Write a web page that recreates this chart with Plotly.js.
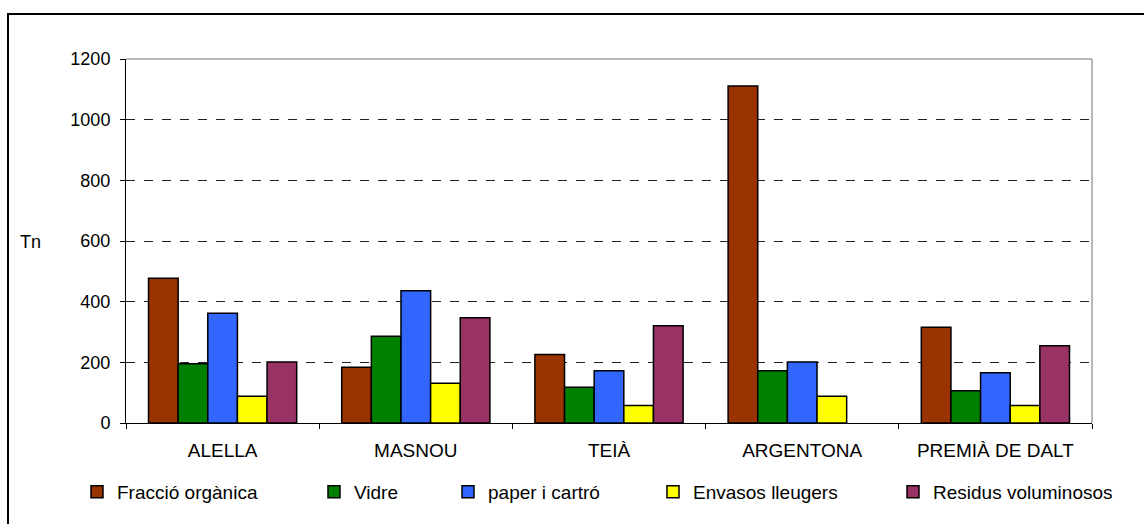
<!DOCTYPE html>
<html>
<head>
<meta charset="utf-8">
<script src="https://cdn.plot.ly/plotly-3.0.1.min.js"></script>
<style>
  html, body { margin: 0; padding: 0; background: #fff; }
  #chart { width: 1144px; height: 524px; }
</style>
</head>
<body>
<div id="chart"></div>
<script>
const categories = ["ALELLA", "MASNOU", "TEIÀ", "ARGENTONA", "PREMIÀ DE DALT"];
const seriesNames = ["Fracció orgànica", "Vidre", "paper i cartró", "Envasos lleugers", "Residus voluminosos"];
const fraccioOrganica = [477, 184, 226, 1111, 316];
const vidre = [195, 286, 118, 172, 106];
const paperCartro = [362, 436, 172, 201, 166];
const envasosLleugers = [88, 131, 58, 88, 58];
const residusVoluminosos = [201, 347, 321, null, 255];
const yTicks = [0, 200, 400, 600, 800, 1000, 1200];

const seriesValues = [fraccioOrganica, vidre, paperCartro, envasosLleugers, residusVoluminosos];
const colors = ["#993300", "#008000", "#3366FF", "#FFFF00", "#993366"];

const W = 1144, H = 524;
const L = 126, R = 1092, T = 59, B = 423;
const pw = R - L, ph = B - T;
const px = x => (x - L) / pw;
const py = y => (B - y) / ph;

const legendTextStarts = [117, 354, 488, 693, 933];
const family = "Liberation Sans, Arial, sans-serif";
const labelFont = { family: family, size: 19, color: "#000" };
const tickFont = { family: family, size: 18, color: "#000" };

const traces = seriesNames.map((name, i) => ({
  type: "bar",
  name: name,
  x: categories,
  y: seriesValues[i],
  marker: { color: colors[i], line: { color: "#000", width: 1.5 } },
  legend: i === 0 ? "legend" : "legend" + (i + 1),
  hoverinfo: "x+y+name"
}));

const layout = {
  width: W, height: H,
  margin: { l: L, r: W - R, t: T, b: H - B, pad: 0 },
  paper_bgcolor: "#fff",
  plot_bgcolor: "#fff",
  font: labelFont,
  barmode: "group",
  bargap: 0.233,
  bargroupgap: 0,
  showlegend: true,
  xaxis: {
    type: "category",
    showline: true, linecolor: "#000", linewidth: 1,
    ticks: "outside", tickson: "boundaries", ticklen: 5, tickcolor: "#000",
    showgrid: false, zeroline: false,
    ticklabelstandoff: 10,
    tickfont: labelFont
  },
  yaxis: {
    range: [0, 1200],
    tickvals: yTicks,
    ticktext: yTicks.map(String),
    showline: true, linecolor: "#000", linewidth: 1,
    ticks: "outside", ticklen: 5, tickcolor: "#000",
    ticklabelstandoff: 6,
    showgrid: true, gridcolor: "#222", griddash: "dash", gridwidth: 1,
    zeroline: false,
    tickfont: tickFont
  },
  annotations: [{
    text: "Tn", xref: "paper", yref: "paper",
    x: px(30), y: py(242), xanchor: "center", yanchor: "middle",
    showarrow: false, font: tickFont
  }],
  shapes: [
    { type: "line", xref: "paper", yref: "paper", x0: 0, x1: 1, y0: 1, y1: 1, line: { color: "#a0a0a0", width: 1.5 } },
    { type: "line", xref: "paper", yref: "paper", x0: 1, x1: 1, y0: 0, y1: 1, line: { color: "#a0a0a0", width: 1.5 } },
    { type: "rect", xref: "paper", yref: "paper", x0: px(8), x1: px(1160), y0: py(14), y1: py(540), line: { color: "#000", width: 2 } }
  ]
};

legendTextStarts.forEach((t, i) => {
  const key = i === 0 ? "legend" : "legend" + (i + 1);
  layout[key] = {
    x: px(t - 40), y: py(492), xanchor: "left", yanchor: "middle",
    orientation: "h", bgcolor: "rgba(0,0,0,0)", borderwidth: 0,
    font: labelFont, itemclick: false, itemdoubleclick: false
  };
});

Plotly.newPlot("chart", traces, layout, { displayModeBar: false, staticPlot: true });
</script>
</body>
</html>
